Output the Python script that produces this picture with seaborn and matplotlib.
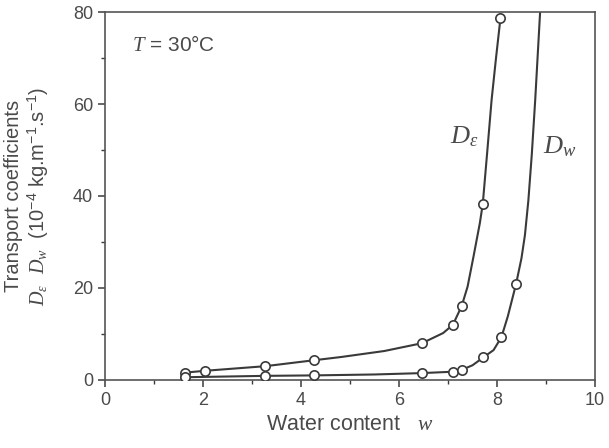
import matplotlib
matplotlib.use("Agg")
import matplotlib.pyplot as plt
from matplotlib.ticker import MultipleLocator
import seaborn as sns

# measured points (open circles)
eps_w = [1.63, 2.04, 3.27, 4.27, 6.47, 7.10, 7.28, 7.71, 8.07]
eps_D = [1.6, 2.0, 3.0, 4.3, 8.0, 12.0, 16.1, 38.3, 78.6]
dw_w = [1.63, 3.27, 4.27, 6.47, 7.10, 7.28, 7.72, 8.09, 8.39]
dw_D = [0.6, 0.9, 1.0, 1.5, 1.8, 2.2, 4.9, 9.3, 20.9]

# fitted curves
eps_curve_w = [1.63, 2.04, 3.27, 4.27, 4.82, 5.7, 6.47, 6.9, 7.10, 7.28, 7.40,
               7.52, 7.65, 7.71, 7.80, 7.89, 7.98, 8.07]
eps_curve_D = [1.6, 2.0, 3.0, 4.3, 5.0, 6.3, 8.0, 10.2, 12.0, 16.1, 20.3,
               26.8, 34.1, 38.3, 49.5, 60.9, 70.0, 78.6]
dw_curve_w = [1.63, 3.27, 4.27, 5.5, 6.47, 7.10, 7.28, 7.50, 7.72, 7.93, 8.09,
              8.22, 8.39, 8.50, 8.57, 8.64, 8.71, 8.78, 8.88]
dw_curve_D = [0.6, 0.9, 1.0, 1.2, 1.5, 1.8, 2.2, 3.2, 4.9, 6.5, 9.3,
              13.8, 20.9, 26.5, 31.5, 39.0, 49.0, 60.9, 80.0]

sns.set_style("ticks")
plt.rcParams['font.family'] = ['Liberation Sans', 'DejaVu Sans']
plt.rcParams['mathtext.fontset'] = 'custom'
plt.rcParams['mathtext.rm'] = 'Liberation Sans'
plt.rcParams['mathtext.it'] = 'Liberation Serif:italic'

txt = '#4a4a4a'
ink = '#3a3a3a'

fig = plt.figure(figsize=(6.09, 4.48), dpi=100)
ax = fig.add_axes([0.1724, 0.1518, 0.8046, 0.8214])

sns.lineplot(x=eps_curve_w, y=eps_curve_D, ax=ax, color=ink, lw=1.5, sort=False)
sns.lineplot(x=dw_curve_w, y=dw_curve_D, ax=ax, color=ink, lw=1.5, sort=False)
sns.scatterplot(x=eps_w, y=eps_D, ax=ax, marker='o', s=45, facecolor='white',
                edgecolor=ink, linewidth=1.2, zorder=3)
sns.scatterplot(x=dw_w, y=dw_D, ax=ax, marker='o', s=45, facecolor='white',
                edgecolor=ink, linewidth=1.2, zorder=3)

ax.set_xlim(0, 10)
ax.set_ylim(0, 80)
ax.xaxis.set_major_locator(MultipleLocator(2))
ax.xaxis.set_minor_locator(MultipleLocator(1))
ax.yaxis.set_major_locator(MultipleLocator(20))
ax.yaxis.set_minor_locator(MultipleLocator(10))
ax.tick_params(which='major', direction='out', length=5, width=1.1, colors=ink,
               labelsize=13, labelcolor=txt)
ax.tick_params(which='minor', direction='out', length=3, width=1.0, colors=ink)
for sp in ax.spines.values():
    sp.set_visible(True)
    sp.set_linewidth(1.2)
    sp.set_color('#555555')

ax.set_xlabel('Water content   $w$', fontsize=15.5, color=txt, labelpad=4)
ax.set_ylabel('Transport coefficients\n$D_\\varepsilon$  $D_w$  (10$^{-4}$ kg.m$^{-1}$.s$^{-1}$)',
              fontsize=14.5, color=txt, linespacing=1.15)
ax.yaxis.set_label_coords(-0.110, 0.5)

ax.text(0.55, 71.5, '$T$ = 30°C', fontsize=15, color=txt)
ax.text(7.04, 51.5, '$D_\\varepsilon$', fontsize=19, color=txt)
ax.text(8.94, 49.3, '$D_w$', fontsize=19, color=txt)

fig.savefig('out.png', dpi=100)
